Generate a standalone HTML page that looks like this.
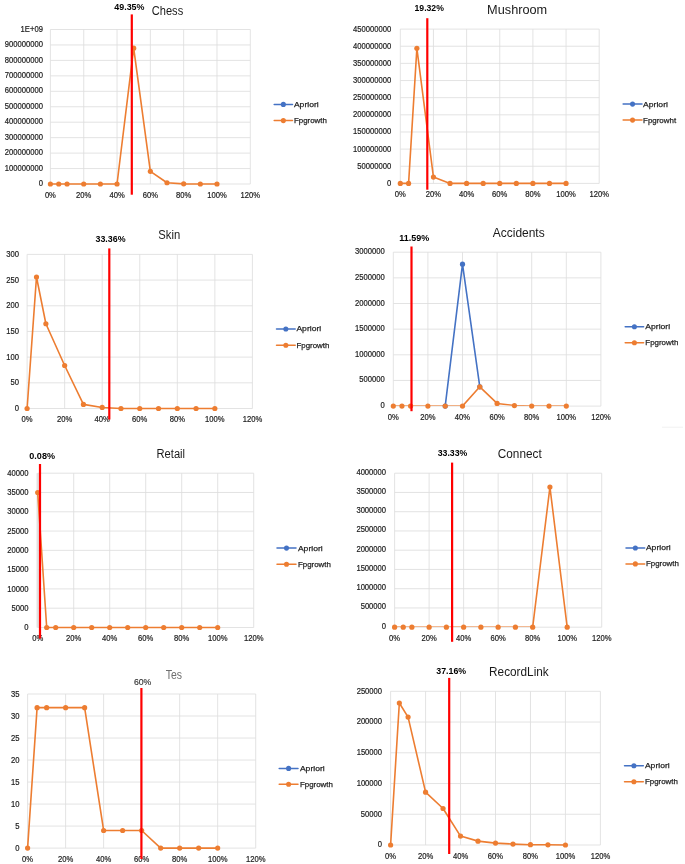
<!DOCTYPE html>
<html><head><meta charset="utf-8"><title>Charts</title>
<style>
html,body{margin:0;padding:0;background:#fff;}
body{width:685px;height:864px;overflow:hidden;}
svg{display:block;}
text{font-family:"Liberation Sans",sans-serif;}
.ax{font-size:8.3px;fill:#1c1c1c;stroke:#1c1c1c;stroke-width:0.2px;}
.lg{font-size:8.1px;fill:#1e1e1e;stroke:#1e1e1e;stroke-width:0.25px;}
.tt{font-size:12.3px;stroke-width:0.15px;}
.bl{font-size:9.8px;font-weight:bold;fill:#000;}
.bl2{font-size:9.5px;fill:#333;stroke:#333;stroke-width:0.15px;}
</style></head><body>
<svg width="685" height="864" viewBox="0 0 685 864">
<rect width="685" height="864" fill="#fff"/>
<g class="chart">
<path d="M50.4 184H250.3M50.4 168.55H250.3M50.4 153.1H250.3M50.4 137.65H250.3M50.4 122.2H250.3M50.4 106.75H250.3M50.4 91.3H250.3M50.4 75.85H250.3M50.4 60.4H250.3M50.4 44.95H250.3M50.4 29.5H250.3M50.4 29.5V184M83.72 29.5V184M117.03 29.5V184M150.35 29.5V184M183.67 29.5V184M216.98 29.5V184M250.3 29.5V184" stroke="#DEDEDE" stroke-width="0.85" fill="none"/>
<text class="ax" transform="translate(42.9 186.1) scale(0.92 1)" text-anchor="end">0</text>
<text class="ax" transform="translate(42.9 170.65) scale(0.92 1)" text-anchor="end">100000000</text>
<text class="ax" transform="translate(42.9 155.2) scale(0.92 1)" text-anchor="end">200000000</text>
<text class="ax" transform="translate(42.9 139.75) scale(0.92 1)" text-anchor="end">300000000</text>
<text class="ax" transform="translate(42.9 124.3) scale(0.92 1)" text-anchor="end">400000000</text>
<text class="ax" transform="translate(42.9 108.85) scale(0.92 1)" text-anchor="end">500000000</text>
<text class="ax" transform="translate(42.9 93.4) scale(0.92 1)" text-anchor="end">600000000</text>
<text class="ax" transform="translate(42.9 77.95) scale(0.92 1)" text-anchor="end">700000000</text>
<text class="ax" transform="translate(42.9 62.5) scale(0.92 1)" text-anchor="end">800000000</text>
<text class="ax" transform="translate(42.9 47.05) scale(0.92 1)" text-anchor="end">900000000</text>
<text class="ax" transform="translate(42.9 31.6) scale(0.92 1)" text-anchor="end">1E+09</text>
<text class="ax" transform="translate(50.4 197.8) scale(0.92 1)" text-anchor="middle">0%</text>
<text class="ax" transform="translate(83.72 197.8) scale(0.92 1)" text-anchor="middle">20%</text>
<text class="ax" transform="translate(117.03 197.8) scale(0.92 1)" text-anchor="middle">40%</text>
<text class="ax" transform="translate(150.35 197.8) scale(0.92 1)" text-anchor="middle">60%</text>
<text class="ax" transform="translate(183.67 197.8) scale(0.92 1)" text-anchor="middle">80%</text>
<text class="ax" transform="translate(216.98 197.8) scale(0.92 1)" text-anchor="middle">100%</text>
<text class="ax" transform="translate(250.3 197.8) scale(0.92 1)" text-anchor="middle">120%</text>
<polyline points="50.4,184 58.73,184 67.06,184 83.72,184 100.38,184 117.03,184 133.69,48.19 150.35,171.33 167.01,182.76 183.67,183.85 200.33,184 216.98,184" fill="none" stroke="#ED7D31" stroke-width="1.6" stroke-linejoin="round" stroke-linecap="round"/><circle cx="50.4" cy="184" r="2.6" fill="#ED7D31"/><circle cx="58.73" cy="184" r="2.6" fill="#ED7D31"/><circle cx="67.06" cy="184" r="2.6" fill="#ED7D31"/><circle cx="83.72" cy="184" r="2.6" fill="#ED7D31"/><circle cx="100.38" cy="184" r="2.6" fill="#ED7D31"/><circle cx="117.03" cy="184" r="2.6" fill="#ED7D31"/><circle cx="133.69" cy="48.19" r="2.6" fill="#ED7D31"/><circle cx="150.35" cy="171.33" r="2.6" fill="#ED7D31"/><circle cx="167.01" cy="182.76" r="2.6" fill="#ED7D31"/><circle cx="183.67" cy="183.85" r="2.6" fill="#ED7D31"/><circle cx="200.33" cy="184" r="2.6" fill="#ED7D31"/><circle cx="216.98" cy="184" r="2.6" fill="#ED7D31"/>
<line x1="131.8" y1="14.4" x2="131.8" y2="194.7" stroke="#FF0000" stroke-width="2.2"/>
<text class="bl" x="114.3" y="9.8" textLength="30.2" lengthAdjust="spacingAndGlyphs">49.35%</text>
<text class="tt" x="151.8" y="14.7" textLength="31.4" lengthAdjust="spacingAndGlyphs" fill="#1a1a1a">Chess</text>
<line x1="274.2" y1="104.4" x2="292.5" y2="104.4" stroke="#4472C4" stroke-width="1.5" stroke-linecap="round"/><circle cx="283.35" cy="104.4" r="2.55" fill="#4472C4"/>
<text class="lg" x="293.9" y="106.8" textLength="24.8" lengthAdjust="spacingAndGlyphs">Apriori</text>
<line x1="274.2" y1="120.6" x2="292.5" y2="120.6" stroke="#ED7D31" stroke-width="1.5" stroke-linecap="round"/><circle cx="283.35" cy="120.6" r="2.55" fill="#ED7D31"/>
<text class="lg" x="293.9" y="123" textLength="33" lengthAdjust="spacingAndGlyphs">Fpgrowth</text>
</g>
<g class="chart">
<path d="M400.3 183.4H599.2M400.3 166.26H599.2M400.3 149.11H599.2M400.3 131.97H599.2M400.3 114.82H599.2M400.3 97.68H599.2M400.3 80.53H599.2M400.3 63.39H599.2M400.3 46.24H599.2M400.3 29.1H599.2M400.3 29.1V183.4M433.45 29.1V183.4M466.6 29.1V183.4M499.75 29.1V183.4M532.9 29.1V183.4M566.05 29.1V183.4M599.2 29.1V183.4" stroke="#DEDEDE" stroke-width="0.85" fill="none"/>
<text class="ax" transform="translate(391.2 185.8) scale(0.92 1)" text-anchor="end">0</text>
<text class="ax" transform="translate(391.2 168.66) scale(0.92 1)" text-anchor="end">50000000</text>
<text class="ax" transform="translate(391.2 151.51) scale(0.92 1)" text-anchor="end">100000000</text>
<text class="ax" transform="translate(391.2 134.37) scale(0.92 1)" text-anchor="end">150000000</text>
<text class="ax" transform="translate(391.2 117.22) scale(0.92 1)" text-anchor="end">200000000</text>
<text class="ax" transform="translate(391.2 100.08) scale(0.92 1)" text-anchor="end">250000000</text>
<text class="ax" transform="translate(391.2 82.93) scale(0.92 1)" text-anchor="end">300000000</text>
<text class="ax" transform="translate(391.2 65.79) scale(0.92 1)" text-anchor="end">350000000</text>
<text class="ax" transform="translate(391.2 48.64) scale(0.92 1)" text-anchor="end">400000000</text>
<text class="ax" transform="translate(391.2 31.5) scale(0.92 1)" text-anchor="end">450000000</text>
<text class="ax" transform="translate(400.3 197.2) scale(0.92 1)" text-anchor="middle">0%</text>
<text class="ax" transform="translate(433.45 197.2) scale(0.92 1)" text-anchor="middle">20%</text>
<text class="ax" transform="translate(466.6 197.2) scale(0.92 1)" text-anchor="middle">40%</text>
<text class="ax" transform="translate(499.75 197.2) scale(0.92 1)" text-anchor="middle">60%</text>
<text class="ax" transform="translate(532.9 197.2) scale(0.92 1)" text-anchor="middle">80%</text>
<text class="ax" transform="translate(566.05 197.2) scale(0.92 1)" text-anchor="middle">100%</text>
<text class="ax" transform="translate(599.2 197.2) scale(0.92 1)" text-anchor="middle">120%</text>
<polyline points="400.3,183.4 408.59,183.4 416.88,48.3 433.45,177.09 450.03,183.4 466.6,183.4 483.18,183.4 499.75,183.4 516.33,183.4 532.9,183.4 549.48,183.4 566.05,183.4" fill="none" stroke="#ED7D31" stroke-width="1.6" stroke-linejoin="round" stroke-linecap="round"/><circle cx="400.3" cy="183.4" r="2.6" fill="#ED7D31"/><circle cx="408.59" cy="183.4" r="2.6" fill="#ED7D31"/><circle cx="416.88" cy="48.3" r="2.6" fill="#ED7D31"/><circle cx="433.45" cy="177.09" r="2.6" fill="#ED7D31"/><circle cx="450.03" cy="183.4" r="2.6" fill="#ED7D31"/><circle cx="466.6" cy="183.4" r="2.6" fill="#ED7D31"/><circle cx="483.18" cy="183.4" r="2.6" fill="#ED7D31"/><circle cx="499.75" cy="183.4" r="2.6" fill="#ED7D31"/><circle cx="516.33" cy="183.4" r="2.6" fill="#ED7D31"/><circle cx="532.9" cy="183.4" r="2.6" fill="#ED7D31"/><circle cx="549.48" cy="183.4" r="2.6" fill="#ED7D31"/><circle cx="566.05" cy="183.4" r="2.6" fill="#ED7D31"/>
<line x1="427.3" y1="18.2" x2="427.3" y2="189.7" stroke="#FF0000" stroke-width="2.2"/>
<text class="bl" x="414.5" y="11" textLength="29.4" lengthAdjust="spacingAndGlyphs">19.32%</text>
<text class="tt" x="487.1" y="14.1" textLength="60.1" lengthAdjust="spacingAndGlyphs" fill="#1a1a1a">Mushroom</text>
<line x1="623.1" y1="104.1" x2="642" y2="104.1" stroke="#4472C4" stroke-width="1.5" stroke-linecap="round"/><circle cx="632.55" cy="104.1" r="2.55" fill="#4472C4"/>
<text class="lg" x="643.1" y="106.5" textLength="24.8" lengthAdjust="spacingAndGlyphs">Apriori</text>
<line x1="623.1" y1="120.1" x2="642" y2="120.1" stroke="#ED7D31" stroke-width="1.5" stroke-linecap="round"/><circle cx="632.55" cy="120.1" r="2.55" fill="#ED7D31"/>
<text class="lg" x="643.1" y="122.5" textLength="33" lengthAdjust="spacingAndGlyphs">Fpgrowht</text>
</g>
<g class="chart">
<path d="M27.1 408.5H252.4M27.1 382.82H252.4M27.1 357.13H252.4M27.1 331.45H252.4M27.1 305.77H252.4M27.1 280.08H252.4M27.1 254.4H252.4M27.1 254.4V408.5M64.65 254.4V408.5M102.2 254.4V408.5M139.75 254.4V408.5M177.3 254.4V408.5M214.85 254.4V408.5M252.4 254.4V408.5" stroke="#DEDEDE" stroke-width="0.85" fill="none"/>
<text class="ax" transform="translate(18.9 411.1) scale(0.92 1)" text-anchor="end">0</text>
<text class="ax" transform="translate(18.9 385.42) scale(0.92 1)" text-anchor="end">50</text>
<text class="ax" transform="translate(18.9 359.73) scale(0.92 1)" text-anchor="end">100</text>
<text class="ax" transform="translate(18.9 334.05) scale(0.92 1)" text-anchor="end">150</text>
<text class="ax" transform="translate(18.9 308.37) scale(0.92 1)" text-anchor="end">200</text>
<text class="ax" transform="translate(18.9 282.68) scale(0.92 1)" text-anchor="end">250</text>
<text class="ax" transform="translate(18.9 257) scale(0.92 1)" text-anchor="end">300</text>
<text class="ax" transform="translate(27.1 422.3) scale(0.92 1)" text-anchor="middle">0%</text>
<text class="ax" transform="translate(64.65 422.3) scale(0.92 1)" text-anchor="middle">20%</text>
<text class="ax" transform="translate(102.2 422.3) scale(0.92 1)" text-anchor="middle">40%</text>
<text class="ax" transform="translate(139.75 422.3) scale(0.92 1)" text-anchor="middle">60%</text>
<text class="ax" transform="translate(177.3 422.3) scale(0.92 1)" text-anchor="middle">80%</text>
<text class="ax" transform="translate(214.85 422.3) scale(0.92 1)" text-anchor="middle">100%</text>
<text class="ax" transform="translate(252.4 422.3) scale(0.92 1)" text-anchor="middle">120%</text>
<polyline points="27.1,408.5 36.49,277 45.88,323.75 64.65,365.51 83.43,404.39 102.2,407.47 120.97,408.5 139.75,408.5 158.53,408.5 177.3,408.5 196.07,408.5 214.85,408.5" fill="none" stroke="#ED7D31" stroke-width="1.6" stroke-linejoin="round" stroke-linecap="round"/><circle cx="27.1" cy="408.5" r="2.6" fill="#ED7D31"/><circle cx="36.49" cy="277" r="2.6" fill="#ED7D31"/><circle cx="45.88" cy="323.75" r="2.6" fill="#ED7D31"/><circle cx="64.65" cy="365.51" r="2.6" fill="#ED7D31"/><circle cx="83.43" cy="404.39" r="2.6" fill="#ED7D31"/><circle cx="102.2" cy="407.47" r="2.6" fill="#ED7D31"/><circle cx="120.97" cy="408.5" r="2.6" fill="#ED7D31"/><circle cx="139.75" cy="408.5" r="2.6" fill="#ED7D31"/><circle cx="158.53" cy="408.5" r="2.6" fill="#ED7D31"/><circle cx="177.3" cy="408.5" r="2.6" fill="#ED7D31"/><circle cx="196.07" cy="408.5" r="2.6" fill="#ED7D31"/><circle cx="214.85" cy="408.5" r="2.6" fill="#ED7D31"/>
<line x1="109.3" y1="248.4" x2="109.3" y2="419.5" stroke="#FF0000" stroke-width="2.2"/>
<text class="bl" x="95.5" y="241.7" textLength="30" lengthAdjust="spacingAndGlyphs">33.36%</text>
<text class="tt" x="158.3" y="239.3" textLength="21.9" lengthAdjust="spacingAndGlyphs" fill="#1a1a1a">Skin</text>
<line x1="276.5" y1="329" x2="295.2" y2="329" stroke="#4472C4" stroke-width="1.5" stroke-linecap="round"/><circle cx="285.85" cy="329" r="2.55" fill="#4472C4"/>
<text class="lg" x="296.4" y="331.4" textLength="24.8" lengthAdjust="spacingAndGlyphs">Apriori</text>
<line x1="276.5" y1="345.3" x2="295.2" y2="345.3" stroke="#ED7D31" stroke-width="1.5" stroke-linecap="round"/><circle cx="285.85" cy="345.3" r="2.55" fill="#ED7D31"/>
<text class="lg" x="296.4" y="347.7" textLength="33" lengthAdjust="spacingAndGlyphs">Fpgrowth</text>
</g>
<g class="chart">
<path d="M393.3 406.1H600.9M393.3 380.45H600.9M393.3 354.8H600.9M393.3 329.15H600.9M393.3 303.5H600.9M393.3 277.85H600.9M393.3 252.2H600.9M393.3 252.2V406.1M427.9 252.2V406.1M462.5 252.2V406.1M497.1 252.2V406.1M531.7 252.2V406.1M566.3 252.2V406.1M600.9 252.2V406.1" stroke="#DEDEDE" stroke-width="0.85" fill="none"/>
<text class="ax" transform="translate(384.8 408.1) scale(0.92 1)" text-anchor="end">0</text>
<text class="ax" transform="translate(384.8 382.45) scale(0.92 1)" text-anchor="end">500000</text>
<text class="ax" transform="translate(384.8 356.8) scale(0.92 1)" text-anchor="end">1000000</text>
<text class="ax" transform="translate(384.8 331.15) scale(0.92 1)" text-anchor="end">1500000</text>
<text class="ax" transform="translate(384.8 305.5) scale(0.92 1)" text-anchor="end">2000000</text>
<text class="ax" transform="translate(384.8 279.85) scale(0.92 1)" text-anchor="end">2500000</text>
<text class="ax" transform="translate(384.8 254.2) scale(0.92 1)" text-anchor="end">3000000</text>
<text class="ax" transform="translate(393.3 419.9) scale(0.92 1)" text-anchor="middle">0%</text>
<text class="ax" transform="translate(427.9 419.9) scale(0.92 1)" text-anchor="middle">20%</text>
<text class="ax" transform="translate(462.5 419.9) scale(0.92 1)" text-anchor="middle">40%</text>
<text class="ax" transform="translate(497.1 419.9) scale(0.92 1)" text-anchor="middle">60%</text>
<text class="ax" transform="translate(531.7 419.9) scale(0.92 1)" text-anchor="middle">80%</text>
<text class="ax" transform="translate(566.3 419.9) scale(0.92 1)" text-anchor="middle">100%</text>
<text class="ax" transform="translate(600.9 419.9) scale(0.92 1)" text-anchor="middle">120%</text>
<clipPath id="cp3"><rect x="387.3" y="242.2" width="219.6" height="163.6"/></clipPath>
<polyline points="445.2,406.1 462.5,264.2 479.8,386.81" fill="none" stroke="#4472C4" stroke-width="1.6" stroke-linejoin="round" stroke-linecap="round" clip-path="url(#cp3)"/><circle cx="445.2" cy="406.1" r="2.6" fill="#4472C4"/><circle cx="462.5" cy="264.2" r="2.6" fill="#4472C4"/><circle cx="479.8" cy="386.81" r="2.6" fill="#4472C4"/>
<polyline points="393.3,406.1 401.95,406.1 410.6,406.1 427.9,406.1 445.2,406.1 462.5,406.1 479.8,386.81 497.1,403.43 514.4,405.59 531.7,406.1 549,406.1 566.3,406.1" fill="none" stroke="#ED7D31" stroke-width="1.6" stroke-linejoin="round" stroke-linecap="round" clip-path="url(#cp3)"/><circle cx="393.3" cy="406.1" r="2.6" fill="#ED7D31"/><circle cx="401.95" cy="406.1" r="2.6" fill="#ED7D31"/><circle cx="410.6" cy="406.1" r="2.6" fill="#ED7D31"/><circle cx="427.9" cy="406.1" r="2.6" fill="#ED7D31"/><circle cx="445.2" cy="406.1" r="2.6" fill="#ED7D31"/><circle cx="462.5" cy="406.1" r="2.6" fill="#ED7D31"/><circle cx="479.8" cy="386.81" r="2.6" fill="#ED7D31"/><circle cx="497.1" cy="403.43" r="2.6" fill="#ED7D31"/><circle cx="514.4" cy="405.59" r="2.6" fill="#ED7D31"/><circle cx="531.7" cy="406.1" r="2.6" fill="#ED7D31"/><circle cx="549" cy="406.1" r="2.6" fill="#ED7D31"/><circle cx="566.3" cy="406.1" r="2.6" fill="#ED7D31"/>
<line x1="411.5" y1="246.5" x2="411.5" y2="411.2" stroke="#FF0000" stroke-width="2.2"/>
<text class="bl" x="399.3" y="240.6" textLength="30" lengthAdjust="spacingAndGlyphs">11.59%</text>
<text class="tt" x="492.8" y="236.9" textLength="51.9" lengthAdjust="spacingAndGlyphs" fill="#1a1a1a">Accidents</text>
<line x1="625.2" y1="326.8" x2="643.6" y2="326.8" stroke="#4472C4" stroke-width="1.5" stroke-linecap="round"/><circle cx="634.4" cy="326.8" r="2.55" fill="#4472C4"/>
<text class="lg" x="645.3" y="329.2" textLength="24.8" lengthAdjust="spacingAndGlyphs">Apriori</text>
<line x1="625.2" y1="342.7" x2="643.6" y2="342.7" stroke="#ED7D31" stroke-width="1.5" stroke-linecap="round"/><circle cx="634.4" cy="342.7" r="2.55" fill="#ED7D31"/>
<text class="lg" x="645.3" y="345.1" textLength="33" lengthAdjust="spacingAndGlyphs">Fpgrowth</text>
</g>
<g class="chart">
<rect x="36.4" y="473.2" width="2.6" height="154.3" fill="#E8E8E8"/>
<path d="M37.7 627.5H253.7M37.7 608.21H253.7M37.7 588.92H253.7M37.7 569.64H253.7M37.7 550.35H253.7M37.7 531.06H253.7M37.7 511.77H253.7M37.7 492.49H253.7M37.7 473.2H253.7M37.7 473.2V627.5M73.7 473.2V627.5M109.7 473.2V627.5M145.7 473.2V627.5M181.7 473.2V627.5M217.7 473.2V627.5M253.7 473.2V627.5" stroke="#DEDEDE" stroke-width="0.85" fill="none"/>
<text class="ax" transform="translate(28.6 630.2) scale(0.92 1)" text-anchor="end">0</text>
<text class="ax" transform="translate(28.6 610.91) scale(0.92 1)" text-anchor="end">5000</text>
<text class="ax" transform="translate(28.6 591.62) scale(0.92 1)" text-anchor="end">10000</text>
<text class="ax" transform="translate(28.6 572.34) scale(0.92 1)" text-anchor="end">15000</text>
<text class="ax" transform="translate(28.6 553.05) scale(0.92 1)" text-anchor="end">20000</text>
<text class="ax" transform="translate(28.6 533.76) scale(0.92 1)" text-anchor="end">25000</text>
<text class="ax" transform="translate(28.6 514.48) scale(0.92 1)" text-anchor="end">30000</text>
<text class="ax" transform="translate(28.6 495.19) scale(0.92 1)" text-anchor="end">35000</text>
<text class="ax" transform="translate(28.6 475.9) scale(0.92 1)" text-anchor="end">40000</text>
<text class="ax" transform="translate(37.7 641.3) scale(0.92 1)" text-anchor="middle">0%</text>
<text class="ax" transform="translate(73.7 641.3) scale(0.92 1)" text-anchor="middle">20%</text>
<text class="ax" transform="translate(109.7 641.3) scale(0.92 1)" text-anchor="middle">40%</text>
<text class="ax" transform="translate(145.7 641.3) scale(0.92 1)" text-anchor="middle">60%</text>
<text class="ax" transform="translate(181.7 641.3) scale(0.92 1)" text-anchor="middle">80%</text>
<text class="ax" transform="translate(217.7 641.3) scale(0.92 1)" text-anchor="middle">100%</text>
<text class="ax" transform="translate(253.7 641.3) scale(0.92 1)" text-anchor="middle">120%</text>
<polyline points="37.7,492.49 46.7,627.5 55.7,627.5 73.7,627.5 91.7,627.5 109.7,627.5 127.7,627.5 145.7,627.5 163.7,627.5 181.7,627.5 199.7,627.5 217.7,627.5" fill="none" stroke="#ED7D31" stroke-width="1.6" stroke-linejoin="round" stroke-linecap="round"/><circle cx="37.7" cy="492.49" r="2.6" fill="#ED7D31"/><circle cx="46.7" cy="627.5" r="2.6" fill="#ED7D31"/><circle cx="55.7" cy="627.5" r="2.6" fill="#ED7D31"/><circle cx="73.7" cy="627.5" r="2.6" fill="#ED7D31"/><circle cx="91.7" cy="627.5" r="2.6" fill="#ED7D31"/><circle cx="109.7" cy="627.5" r="2.6" fill="#ED7D31"/><circle cx="127.7" cy="627.5" r="2.6" fill="#ED7D31"/><circle cx="145.7" cy="627.5" r="2.6" fill="#ED7D31"/><circle cx="163.7" cy="627.5" r="2.6" fill="#ED7D31"/><circle cx="181.7" cy="627.5" r="2.6" fill="#ED7D31"/><circle cx="199.7" cy="627.5" r="2.6" fill="#ED7D31"/><circle cx="217.7" cy="627.5" r="2.6" fill="#ED7D31"/>
<line x1="40" y1="464" x2="40" y2="638.5" stroke="#FF0000" stroke-width="2.2"/>
<text class="bl" x="29.3" y="458.6" textLength="25.7" lengthAdjust="spacingAndGlyphs">0.08%</text>
<text class="tt" x="156.5" y="457.8" textLength="28.6" lengthAdjust="spacingAndGlyphs" fill="#1a1a1a">Retail</text>
<line x1="277" y1="548.1" x2="296" y2="548.1" stroke="#4472C4" stroke-width="1.5" stroke-linecap="round"/><circle cx="286.5" cy="548.1" r="2.55" fill="#4472C4"/>
<text class="lg" x="297.9" y="550.5" textLength="24.8" lengthAdjust="spacingAndGlyphs">Apriori</text>
<line x1="277" y1="564.2" x2="296" y2="564.2" stroke="#ED7D31" stroke-width="1.5" stroke-linecap="round"/><circle cx="286.5" cy="564.2" r="2.55" fill="#ED7D31"/>
<text class="lg" x="297.9" y="566.6" textLength="33" lengthAdjust="spacingAndGlyphs">Fpgrowth</text>
</g>
<g class="chart">
<path d="M394.6 627.2H601.7M394.6 607.95H601.7M394.6 588.7H601.7M394.6 569.45H601.7M394.6 550.2H601.7M394.6 530.95H601.7M394.6 511.7H601.7M394.6 492.45H601.7M394.6 473.2H601.7M394.6 473.2V627.2M429.12 473.2V627.2M463.63 473.2V627.2M498.15 473.2V627.2M532.67 473.2V627.2M567.18 473.2V627.2M601.7 473.2V627.2" stroke="#DEDEDE" stroke-width="0.85" fill="none"/>
<text class="ax" transform="translate(386.1 628.7) scale(0.92 1)" text-anchor="end">0</text>
<text class="ax" transform="translate(386.1 609.45) scale(0.92 1)" text-anchor="end">500000</text>
<text class="ax" transform="translate(386.1 590.2) scale(0.92 1)" text-anchor="end">1000000</text>
<text class="ax" transform="translate(386.1 570.95) scale(0.92 1)" text-anchor="end">1500000</text>
<text class="ax" transform="translate(386.1 551.7) scale(0.92 1)" text-anchor="end">2000000</text>
<text class="ax" transform="translate(386.1 532.45) scale(0.92 1)" text-anchor="end">2500000</text>
<text class="ax" transform="translate(386.1 513.2) scale(0.92 1)" text-anchor="end">3000000</text>
<text class="ax" transform="translate(386.1 493.95) scale(0.92 1)" text-anchor="end">3500000</text>
<text class="ax" transform="translate(386.1 474.7) scale(0.92 1)" text-anchor="end">4000000</text>
<text class="ax" transform="translate(394.6 641) scale(0.92 1)" text-anchor="middle">0%</text>
<text class="ax" transform="translate(429.12 641) scale(0.92 1)" text-anchor="middle">20%</text>
<text class="ax" transform="translate(463.63 641) scale(0.92 1)" text-anchor="middle">40%</text>
<text class="ax" transform="translate(498.15 641) scale(0.92 1)" text-anchor="middle">60%</text>
<text class="ax" transform="translate(532.67 641) scale(0.92 1)" text-anchor="middle">80%</text>
<text class="ax" transform="translate(567.18 641) scale(0.92 1)" text-anchor="middle">100%</text>
<text class="ax" transform="translate(601.7 641) scale(0.92 1)" text-anchor="middle">120%</text>
<clipPath id="cp5"><rect x="388.6" y="463.2" width="219.1" height="163.7"/></clipPath>
<polyline points="394.6,627.2 403.23,627.2 411.86,627.2 429.12,627.2 446.38,627.2 463.63,627.2 480.89,627.2 498.15,627.2 515.41,627.2 532.67,627.2 549.93,487.06 567.18,627.2" fill="none" stroke="#ED7D31" stroke-width="1.6" stroke-linejoin="round" stroke-linecap="round" clip-path="url(#cp5)"/><circle cx="394.6" cy="627.2" r="2.6" fill="#ED7D31"/><circle cx="403.23" cy="627.2" r="2.6" fill="#ED7D31"/><circle cx="411.86" cy="627.2" r="2.6" fill="#ED7D31"/><circle cx="429.12" cy="627.2" r="2.6" fill="#ED7D31"/><circle cx="446.38" cy="627.2" r="2.6" fill="#ED7D31"/><circle cx="463.63" cy="627.2" r="2.6" fill="#ED7D31"/><circle cx="480.89" cy="627.2" r="2.6" fill="#ED7D31"/><circle cx="498.15" cy="627.2" r="2.6" fill="#ED7D31"/><circle cx="515.41" cy="627.2" r="2.6" fill="#ED7D31"/><circle cx="532.67" cy="627.2" r="2.6" fill="#ED7D31"/><circle cx="549.93" cy="487.06" r="2.6" fill="#ED7D31"/><circle cx="567.18" cy="627.2" r="2.6" fill="#ED7D31"/>
<line x1="452.1" y1="462.6" x2="452.1" y2="641.8" stroke="#FF0000" stroke-width="2.2"/>
<text class="bl" x="437.7" y="455.9" textLength="29.7" lengthAdjust="spacingAndGlyphs">33.33%</text>
<text class="tt" x="497.8" y="458.1" textLength="43.9" lengthAdjust="spacingAndGlyphs" fill="#1a1a1a">Connect</text>
<line x1="626" y1="548" x2="644.7" y2="548" stroke="#4472C4" stroke-width="1.5" stroke-linecap="round"/><circle cx="635.35" cy="548" r="2.55" fill="#4472C4"/>
<text class="lg" x="645.9" y="550.4" textLength="24.8" lengthAdjust="spacingAndGlyphs">Apriori</text>
<line x1="626" y1="563.9" x2="644.7" y2="563.9" stroke="#ED7D31" stroke-width="1.5" stroke-linecap="round"/><circle cx="635.35" cy="563.9" r="2.55" fill="#ED7D31"/>
<text class="lg" x="645.9" y="566.3" textLength="33" lengthAdjust="spacingAndGlyphs">Fpgrowth</text>
</g>
<g class="chart">
<path d="M27.6 848.1H255.7M27.6 826.09H255.7M27.6 804.07H255.7M27.6 782.06H255.7M27.6 760.04H255.7M27.6 738.03H255.7M27.6 716.01H255.7M27.6 694H255.7M27.6 694V848.1M65.62 694V848.1M103.63 694V848.1M141.65 694V848.1M179.67 694V848.1M217.68 694V848.1M255.7 694V848.1" stroke="#DEDEDE" stroke-width="0.85" fill="none"/>
<text class="ax" transform="translate(19.5 850.6) scale(0.92 1)" text-anchor="end">0</text>
<text class="ax" transform="translate(19.5 828.59) scale(0.92 1)" text-anchor="end">5</text>
<text class="ax" transform="translate(19.5 806.57) scale(0.92 1)" text-anchor="end">10</text>
<text class="ax" transform="translate(19.5 784.56) scale(0.92 1)" text-anchor="end">15</text>
<text class="ax" transform="translate(19.5 762.54) scale(0.92 1)" text-anchor="end">20</text>
<text class="ax" transform="translate(19.5 740.53) scale(0.92 1)" text-anchor="end">25</text>
<text class="ax" transform="translate(19.5 718.51) scale(0.92 1)" text-anchor="end">30</text>
<text class="ax" transform="translate(19.5 696.5) scale(0.92 1)" text-anchor="end">35</text>
<text class="ax" transform="translate(27.6 861.9) scale(0.92 1)" text-anchor="middle">0%</text>
<text class="ax" transform="translate(65.62 861.9) scale(0.92 1)" text-anchor="middle">20%</text>
<text class="ax" transform="translate(103.63 861.9) scale(0.92 1)" text-anchor="middle">40%</text>
<text class="ax" transform="translate(141.65 861.9) scale(0.92 1)" text-anchor="middle">60%</text>
<text class="ax" transform="translate(179.67 861.9) scale(0.92 1)" text-anchor="middle">80%</text>
<text class="ax" transform="translate(217.68 861.9) scale(0.92 1)" text-anchor="middle">100%</text>
<text class="ax" transform="translate(255.7 861.9) scale(0.92 1)" text-anchor="middle">120%</text>
<polyline points="27.6,848.1 37.1,707.65 46.61,707.65 65.62,707.65 84.62,707.65 103.63,830.49 122.64,830.49 141.65,830.49 160.66,848.1 179.67,848.1 198.67,848.1 217.68,848.1" fill="none" stroke="#ED7D31" stroke-width="1.6" stroke-linejoin="round" stroke-linecap="round"/><circle cx="27.6" cy="848.1" r="2.6" fill="#ED7D31"/><circle cx="37.1" cy="707.65" r="2.6" fill="#ED7D31"/><circle cx="46.61" cy="707.65" r="2.6" fill="#ED7D31"/><circle cx="65.62" cy="707.65" r="2.6" fill="#ED7D31"/><circle cx="84.62" cy="707.65" r="2.6" fill="#ED7D31"/><circle cx="103.63" cy="830.49" r="2.6" fill="#ED7D31"/><circle cx="122.64" cy="830.49" r="2.6" fill="#ED7D31"/><circle cx="141.65" cy="830.49" r="2.6" fill="#ED7D31"/><circle cx="160.66" cy="848.1" r="2.6" fill="#ED7D31"/><circle cx="179.67" cy="848.1" r="2.6" fill="#ED7D31"/><circle cx="198.67" cy="848.1" r="2.6" fill="#ED7D31"/><circle cx="217.68" cy="848.1" r="2.6" fill="#ED7D31"/>
<line x1="141.4" y1="688" x2="141.4" y2="859" stroke="#FF0000" stroke-width="2.2"/>
<text class="bl2" x="133.9" y="684.8" textLength="17.5" lengthAdjust="spacingAndGlyphs">60%</text>
<text class="tt" x="165.7" y="678.6" textLength="16.3" lengthAdjust="spacingAndGlyphs" fill="#6e6e6e">Tes</text>
<line x1="279.2" y1="768.4" x2="298" y2="768.4" stroke="#4472C4" stroke-width="1.5" stroke-linecap="round"/><circle cx="288.6" cy="768.4" r="2.55" fill="#4472C4"/>
<text class="lg" x="299.9" y="770.8" textLength="24.8" lengthAdjust="spacingAndGlyphs">Apriori</text>
<line x1="279.2" y1="784.3" x2="298" y2="784.3" stroke="#ED7D31" stroke-width="1.5" stroke-linecap="round"/><circle cx="288.6" cy="784.3" r="2.55" fill="#ED7D31"/>
<text class="lg" x="299.9" y="786.7" textLength="33" lengthAdjust="spacingAndGlyphs">Fpgrowth</text>
</g>
<g class="chart">
<path d="M390.6 845H600.4M390.6 814.26H600.4M390.6 783.52H600.4M390.6 752.78H600.4M390.6 722.04H600.4M390.6 691.3H600.4M390.6 691.3V845M425.57 691.3V845M460.53 691.3V845M495.5 691.3V845M530.47 691.3V845M565.43 691.3V845M600.4 691.3V845" stroke="#DEDEDE" stroke-width="0.85" fill="none"/>
<text class="ax" transform="translate(382.1 847.3) scale(0.92 1)" text-anchor="end">0</text>
<text class="ax" transform="translate(382.1 816.56) scale(0.92 1)" text-anchor="end">50000</text>
<text class="ax" transform="translate(382.1 785.82) scale(0.92 1)" text-anchor="end">100000</text>
<text class="ax" transform="translate(382.1 755.08) scale(0.92 1)" text-anchor="end">150000</text>
<text class="ax" transform="translate(382.1 724.34) scale(0.92 1)" text-anchor="end">200000</text>
<text class="ax" transform="translate(382.1 693.6) scale(0.92 1)" text-anchor="end">250000</text>
<text class="ax" transform="translate(390.6 858.8) scale(0.92 1)" text-anchor="middle">0%</text>
<text class="ax" transform="translate(425.57 858.8) scale(0.92 1)" text-anchor="middle">20%</text>
<text class="ax" transform="translate(460.53 858.8) scale(0.92 1)" text-anchor="middle">40%</text>
<text class="ax" transform="translate(495.5 858.8) scale(0.92 1)" text-anchor="middle">60%</text>
<text class="ax" transform="translate(530.47 858.8) scale(0.92 1)" text-anchor="middle">80%</text>
<text class="ax" transform="translate(565.43 858.8) scale(0.92 1)" text-anchor="middle">100%</text>
<text class="ax" transform="translate(600.4 858.8) scale(0.92 1)" text-anchor="middle">120%</text>
<polyline points="390.6,845 399.34,702.98 408.08,717.12 425.57,792.13 443.05,808.48 460.53,836.09 478.02,841.13 495.5,843.09 512.98,844.08 530.47,844.69 547.95,844.82 565.43,845" fill="none" stroke="#ED7D31" stroke-width="1.6" stroke-linejoin="round" stroke-linecap="round"/><circle cx="390.6" cy="845" r="2.6" fill="#ED7D31"/><circle cx="399.34" cy="702.98" r="2.6" fill="#ED7D31"/><circle cx="408.08" cy="717.12" r="2.6" fill="#ED7D31"/><circle cx="425.57" cy="792.13" r="2.6" fill="#ED7D31"/><circle cx="443.05" cy="808.48" r="2.6" fill="#ED7D31"/><circle cx="460.53" cy="836.09" r="2.6" fill="#ED7D31"/><circle cx="478.02" cy="841.13" r="2.6" fill="#ED7D31"/><circle cx="495.5" cy="843.09" r="2.6" fill="#ED7D31"/><circle cx="512.98" cy="844.08" r="2.6" fill="#ED7D31"/><circle cx="530.47" cy="844.69" r="2.6" fill="#ED7D31"/><circle cx="547.95" cy="844.82" r="2.6" fill="#ED7D31"/><circle cx="565.43" cy="845" r="2.6" fill="#ED7D31"/>
<line x1="449.2" y1="677.9" x2="449.2" y2="854" stroke="#FF0000" stroke-width="2.2"/>
<text class="bl" x="436.3" y="673.6" textLength="29.9" lengthAdjust="spacingAndGlyphs">37.16%</text>
<text class="tt" x="489.1" y="676.2" textLength="59.6" lengthAdjust="spacingAndGlyphs" fill="#1a1a1a">RecordLink</text>
<line x1="624.5" y1="765.8" x2="643.3" y2="765.8" stroke="#4472C4" stroke-width="1.5" stroke-linecap="round"/><circle cx="633.9" cy="765.8" r="2.55" fill="#4472C4"/>
<text class="lg" x="644.9" y="768.2" textLength="24.8" lengthAdjust="spacingAndGlyphs">Apriori</text>
<line x1="624.5" y1="781.8" x2="643.3" y2="781.8" stroke="#ED7D31" stroke-width="1.5" stroke-linecap="round"/><circle cx="633.9" cy="781.8" r="2.55" fill="#ED7D31"/>
<text class="lg" x="644.9" y="784.2" textLength="33" lengthAdjust="spacingAndGlyphs">Fpgrowth</text>
</g>
<line x1="662" y1="427.2" x2="683" y2="427.2" stroke="#EDEDED" stroke-width="0.8"/>
</svg>
</body></html>
